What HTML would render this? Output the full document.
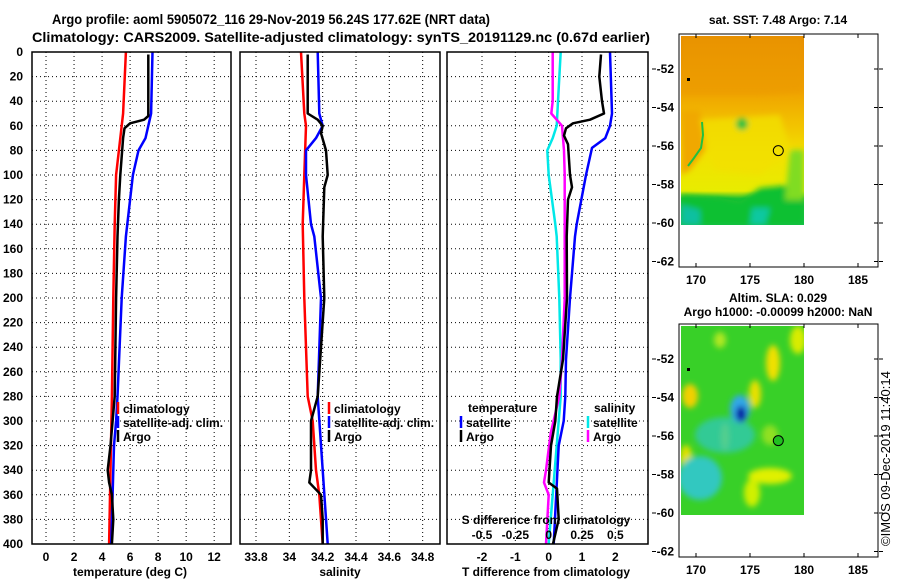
<!DOCTYPE html>
<html><head><meta charset="utf-8"><title>Argo profile</title>
<style>
html,body{margin:0;padding:0;background:#fff;}
svg{display:block;font-family:"Liberation Sans",sans-serif;font-weight:bold;}
</style></head>
<body>
<svg id="chart" width="900" height="580" viewBox="0 0 900 580" xmlns="http://www.w3.org/2000/svg">
<defs>
<filter id="blur3" x="-20%" y="-20%" width="140%" height="140%"><feGaussianBlur stdDeviation="3"/></filter>
<filter id="blur5" x="-30%" y="-30%" width="160%" height="160%"><feGaussianBlur stdDeviation="3"/></filter>
<clipPath id="clipA"><rect x="681" y="36" width="123" height="189"/></clipPath>
<clipPath id="clipB"><rect x="681" y="326" width="123" height="189"/></clipPath>
<linearGradient id="sstGrad" x1="0" y1="0" x2="0" y2="1">
<stop offset="0" stop-color="#e68a00"/><stop offset="0.3" stop-color="#f0a400"/><stop offset="0.5" stop-color="#f2c800"/><stop offset="0.62" stop-color="#f2e000"/><stop offset="0.82" stop-color="#e8ec00"/><stop offset="0.86" stop-color="#20c030"/><stop offset="1" stop-color="#10c050"/>
</linearGradient>
</defs>
<text x="52" y="24" font-size="14" textLength="438" lengthAdjust="spacingAndGlyphs">Argo profile: aoml 5905072_116 29-Nov-2019 56.24S 177.62E (NRT data)</text>
<text x="32" y="42" font-size="14" textLength="618" lengthAdjust="spacingAndGlyphs">Climatology: CARS2009. Satellite-adjusted climatology: synTS_20191129.nc (0.67d earlier)</text>
<g id="panels"></g>
<g id="maps"></g>
<text transform="translate(890,546) rotate(-90)" font-size="13" font-weight="normal">©IMOS 09-Dec-2019 11:40:14</text>
</svg>
<script>
// ---- data ----
var depthTicks = [0,20,40,60,80,100,120,140,160,180,200,220,240,260,280,300,320,340,360,380,400];
var tempTicks = [0,2,4,6,8,10,12];
var salTicks = [33.8,34,34.2,34.4,34.6,34.8];
var salTickLabels = ["33.8","34","34.2","34.4","34.6","34.8"];
var tdiffTicks = [-2,-1,0,1,2];
var sdiffTicks = [-0.5,-0.25,0,0.25,0.5];
var sdiffTickLabels = ["-0.5","-0.25","0","0.25","0.5"];

var climTdepth = [0,50,60,80,100,140,200,280,340,400];
var climT = [5.7,5.5,5.4,5.2,5.0,4.9,4.8,4.7,4.6,4.5];
var satTdepth = [0,50,55,70,80,100,140,150,200,280,300,320,400];
var satT = [7.6,7.5,7.4,7.1,6.6,6.2,5.8,5.7,5.4,5.1,5.0,4.85,4.65];
var argoTdepth = [2,52,55,58,62,70,100,120,150,200,280,320,340,350,360,380,400];
var argoT = [7.3,7.3,7.0,6.0,5.6,5.5,5.3,5.2,5.1,5.0,4.9,4.6,4.4,4.5,4.7,4.8,4.7];

var climSdepth = [0,50,60,100,140,200,280,300,340,360,400];
var climS = [34.07,34.09,34.1,34.09,34.08,34.09,34.11,34.14,34.16,34.18,34.2];
var satSdepth = [0,50,60,70,80,100,140,150,200,280,340,400];
var satS = [34.17,34.18,34.2,34.16,34.1,34.1,34.13,34.15,34.19,34.17,34.2,34.23];
var argoSdepth = [2,50,55,60,66,80,100,110,150,200,280,300,320,340,350,360,380,400];
var argoS = [34.11,34.11,34.17,34.2,34.19,34.22,34.23,34.21,34.2,34.21,34.17,34.13,34.13,34.13,34.12,34.19,34.2,34.2];

var satDTdepth = [0,50,60,70,78,100,140,150,200,250,280,300,320,400];
var satDT = [1.84,1.9,1.84,1.7,1.3,1.12,0.84,0.79,0.64,0.52,0.5,0.45,0.3,0.15];
var argoDTdepth = [2,20,40,50,55,58,62,68,75,100,110,120,150,200,250,280,300,320,350,355,380,400];
var argoDT = [1.57,1.52,1.6,1.66,1.24,0.73,0.52,0.46,0.58,0.64,0.7,0.58,0.54,0.55,0.43,0.25,0.2,0.07,0.0,0.25,0.3,0.13];
var satDSdepth = [0,40,60,70,80,100,140,150,200,250,280,400];
var satDS = [0.09,0.07,0.06,0.03,-0.01,0,0.05,0.06,0.08,0.09,0.09,0];
var argoDSdepth = [0,40,50,55,60,80,100,150,200,250,280,310,340,350,360,400];
var argoDS = [0.03,0.03,0.02,0.06,0.1,0.115,0.12,0.12,0.12,0.1,0.08,0.015,-0.02,-0.035,0,-0.02];

var lonTicks = [170,175,180,185];
var latTicks = [-52,-54,-56,-58,-60,-62];
var floatLon = 177.62, floatLat = -56.24;

// ---- helpers ----
var NS = "http://www.w3.org/2000/svg";
function mk(tag, attrs, parent){var e=document.createElementNS(NS,tag);for(var k in attrs)e.setAttribute(k,attrs[k]);if(parent)parent.appendChild(e);return e;}
var Y0=52, Y1=544;
function yD(d){return Y0+(d/400)*(Y1-Y0);}
function lin(d0,d1,r0,r1){return function(v){return r0+(v-d0)/(d1-d0)*(r1-r0);};}
var panelsG=document.getElementById('panels');
var mapsG=document.getElementById('maps');

var P1={x0:32,x1:231,sx:lin(-1,13.2,32,231)};
var P2={x0:240,x1:440,sx:lin(33.704,34.904,240,440)};
var P3={x0:447,x1:648,sx:lin(-3.05,2.98,447,648)};
var sS=function(v){return P3.sx(v*4);};

function frame(P,name){
  var r=mk('rect',{x:P.x0,y:Y0,width:P.x1-P.x0,height:Y1-Y0,fill:'none',stroke:'#000','stroke-width':1.5},panelsG);
  
  
}
function grid(P,xs,fx){
  depthTicks.forEach(function(d){ if(d>0&&d<400){var l=mk('line',{x1:P.x0,x2:P.x1,y1:yD(d),y2:yD(d),stroke:'#000','stroke-width':1,'stroke-dasharray':'1,3'},panelsG);
    
    }});
  xs.forEach(function(v){var x=fx(v);var l=mk('line',{x1:x,x2:x,y1:Y0,y2:Y1,stroke:'#000','stroke-width':1,'stroke-dasharray':'1,3'},panelsG);
    
    });
}
function xlabels(xs,labels,fx,y,name){
  xs.forEach(function(v,i){var t=mk('text',{x:fx(v),y:y,'font-size':12,'text-anchor':'middle'},panelsG);t.textContent=labels[i];
    
    });
}
function line(P,fx,depths,vals,color,name){
  var pts=depths.map(function(d,i){return fx(vals[i]).toFixed(1)+','+yD(d).toFixed(1);}).join(' ');
  var p=mk('polyline',{points:pts,fill:'none',stroke:color,'stroke-width':2.5,'stroke-linejoin':'round'},panelsG);
  
  
}
function legendEntry(x,y,color,label,name){
  var l=mk('line',{x1:x,x2:x,y1:y-11,y2:y+1,stroke:color,'stroke-width':2.5},panelsG);
  
  
  var t=mk('text',{x:x+5,y:y,'font-size':12},panelsG);t.textContent=label;
  
  
}
function plain(x,y,txt,anchor,name,size){
  var t=mk('text',{x:x,y:y,'font-size':size||12,'text-anchor':anchor||'start'},panelsG);t.textContent=txt;
  
  
  return t;
}

// y labels
depthTicks.forEach(function(d){var t=mk('text',{x:23,y:yD(d)+4,'font-size':12,'text-anchor':'end'},panelsG);t.textContent=String(d);
  
  });

// panel 1
grid(P1,tempTicks,P1.sx);
line(P1,P1.sx,climTdepth,climT,'#ff0000','temp-climatology-line');
line(P1,P1.sx,satTdepth,satT,'#0000ff','temp-satellite-line');
line(P1,P1.sx,argoTdepth,argoT,'#000000','temp-argo-line');
frame(P1,'temperature-panel');
xlabels(tempTicks,tempTicks.map(String),P1.sx,561,'temp-tick-label');
plain(130,576,'temperature (deg C)','middle','temp-axis-title');
legendEntry(118,413,'#ff0000','climatology','legend-climatology');
legendEntry(118,427,'#0000ff','satellite-adj. clim.','legend-satellite');
legendEntry(118,441,'#000000','Argo','legend-argo');

// panel 2
grid(P2,salTicks,P2.sx);
line(P2,P2.sx,climSdepth,climS,'#ff0000','sal-climatology-line');
line(P2,P2.sx,satSdepth,satS,'#0000ff','sal-satellite-line');
line(P2,P2.sx,argoSdepth,argoS,'#000000','sal-argo-line');
frame(P2,'salinity-panel');
xlabels(salTicks,salTickLabels,P2.sx,561,'sal-tick-label');
plain(340,576,'salinity','middle','sal-axis-title');
legendEntry(329,413,'#ff0000','climatology','legend-sal-climatology');
legendEntry(329,427,'#0000ff','satellite-adj. clim.','legend-sal-satellite');
legendEntry(329,441,'#000000','Argo','legend-sal-argo');

// panel 3
grid(P3,tdiffTicks,P3.sx);
line(P3,sS,satDSdepth,satDS,'#00e8e8','sdiff-satellite-line');
line(P3,sS,argoDSdepth,argoDS,'#ff00ff','sdiff-argo-line');
line(P3,P3.sx,satDTdepth,satDT,'#0000ff','tdiff-satellite-line');
line(P3,P3.sx,argoDTdepth,argoDT,'#000000','tdiff-argo-line');
frame(P3,'difference-panel');
xlabels(tdiffTicks,tdiffTicks.map(String),P3.sx,561,'tdiff-tick-label');
plain(546,576,'T difference from climatology','middle','tdiff-axis-title');
plain(546,524,'S difference from climatology','middle','sdiff-axis-title');
xlabels(sdiffTicks,sdiffTickLabels,sS,539,'sdiff-tick-label');
plain(468,412,'temperature','start','legend-temperature-header');
legendEntry(461,427,'#0000ff','satellite','legend-tdiff-satellite');
legendEntry(461,441,'#000000','Argo','legend-tdiff-argo');
plain(594,412,'salinity','start','legend-salinity-header');
legendEntry(588,427,'#00e8e8','satellite','legend-sdiff-satellite');
legendEntry(588,441,'#ff00ff','Argo','legend-sdiff-argo');

// ---- maps ----
function mapAxes(top,name){
  var lx=lin(170,180,696,804);
  var ly=lin(-52,-60,top+35,top+189);
  var g=mk('g',{},mapsG);
  
  
  return {g:g,lx:lx,ly:ly};
}
function mapFrame(M,top,name){
  var r=mk('rect',{x:679,y:top,width:199,height:233,fill:'none',stroke:'#000','stroke-width':1},M.g);
  
  
  lonTicks.forEach(function(v){var x=M.lx(v);
    mk('line',{x1:x,x2:x,y1:top,y2:top+4,stroke:'#000'},M.g);
    mk('line',{x1:x,x2:x,y1:top+233,y2:top+229,stroke:'#000'},M.g);
    var t=mk('text',{x:x,y:top+250,'font-size':12,'text-anchor':'middle'},M.g);t.textContent=String(v);
    
    });
  latTicks.forEach(function(v){var y=M.ly(v);
    mk('line',{x1:878,x2:874,y1:y,y2:y,stroke:'#000'},M.g);
    mk('line',{x1:879,x2:883,y1:y,y2:y,stroke:'#000'},M.g);
    mk('line',{x1:652,x2:656,y1:y,y2:y,stroke:'#000'},M.g);
    var t=mk('text',{x:674,y:y+4,'font-size':12,'text-anchor':'end'},M.g);t.textContent=String(v);
    
    });
  var c=mk('circle',{cx:M.lx(floatLon),cy:M.ly(floatLat),r:5,fill:'none',stroke:'#000','stroke-width':1},M.g);
  
  
}
// SST map
var MA=mapAxes(34,'sst-map');
var ga=mk('g',{'clip-path':'url(#clipA)'},MA.g);
mk('rect',{x:681,y:36,width:123,height:189,fill:'url(#sstGrad)'},ga);
var gab=mk('g',{filter:'url(#blur3)'},ga);
mk('path',{d:'M681,95 L760,95 L804,92 L804,36 L681,36 Z',fill:'#eb9a00',opacity:0.6},gab);
mk('path',{d:'M681,110 L700,110 L705,150 L690,170 L681,175 Z',fill:'#f0a800'},gab);
mk('path',{d:'M700,120 L780,115 L790,150 L760,175 L715,170 Z',fill:'#f2e000',opacity:0.8},gab);
mk('path',{d:'M681,195 L720,198 L740,202 L760,188 L790,185 L804,180 L804,225 L681,225 Z',fill:'#10c030'},gab);
mk('path',{d:'M790,150 L804,150 L804,200 L785,200 Z',fill:'#80dc20'},gab);
mk('ellipse',{cx:742,cy:124,rx:6,ry:6,fill:'#20c040'},gab);
mk('path',{d:'M681,205 L700,210 L700,225 L681,225 Z',fill:'#10c0a0'},gab);
mk('path',{d:'M752,208 L770,208 L765,225 L750,225 Z',fill:'#10c8a0'},gab);
mk('path',{d:'M702,122 L703,135 L701,148 L694,158 L688,166',fill:'none',stroke:'#20c040','stroke-width':2},ga);
var tA=mk('text',{x:778,y:24,'font-size':12,'text-anchor':'middle'},MA.g);tA.textContent='sat. SST: 7.48 Argo: 7.14';


mk('rect',{x:687,y:78,width:3,height:3,fill:'#000'},MA.g);
mapFrame(MA,34,'sst-map');

// SLA map
var MB=mapAxes(324,'sla-map');
var gb=mk('g',{'clip-path':'url(#clipB)'},MB.g);
mk('rect',{x:681,y:326,width:123,height:189,fill:'#38d028'},gb);
var gbb=mk('g',{filter:'url(#blur5)'},gb);
[[773,363,7,18,'#f0e000'],[755,394,6,14,'#e8e000'],[725,437,4,14,'#e8e800'],[690,396,8,12,'#f2d000'],[686,457,6,12,'#e0e000'],[770,476,22,8,'#e0f000'],[752,493,8,14,'#d0f000'],[798,340,8,14,'#d8ec00'],[720,340,6,8,'#b0e820'],[770,435,8,10,'#90e020']].forEach(function(b){
  mk('ellipse',{cx:b[0],cy:b[1],rx:b[2],ry:b[3],fill:b[4]},gbb);});
mk('ellipse',{cx:700,cy:478,rx:22,ry:22,fill:'#30c8c0'},gbb);
mk('ellipse',{cx:725,cy:435,rx:30,ry:18,fill:'#30c8b0',opacity:0.8},gbb);
mk('ellipse',{cx:740,cy:409,rx:10,ry:14,fill:'#30a8e8'},gbb);
mk('ellipse',{cx:741,cy:414,rx:5,ry:8,fill:'#0010a0'},gbb);
var tB1=mk('text',{x:778,y:302,'font-size':12,'text-anchor':'middle'},MB.g);tB1.textContent='Altim. SLA: 0.029';


var tB2=mk('text',{x:778,y:316,'font-size':12,'text-anchor':'middle'},MB.g);tB2.textContent='Argo h1000: -0.00099 h2000: NaN';


mk('rect',{x:687,y:368,width:3,height:3,fill:'#000'},MB.g);
mk('circle',{cx:MB.lx(floatLon),cy:MB.ly(floatLat),r:5,fill:'#20c020'},MB.g);
mapFrame(MB,324,'sla-map');
</script>
</body></html>
